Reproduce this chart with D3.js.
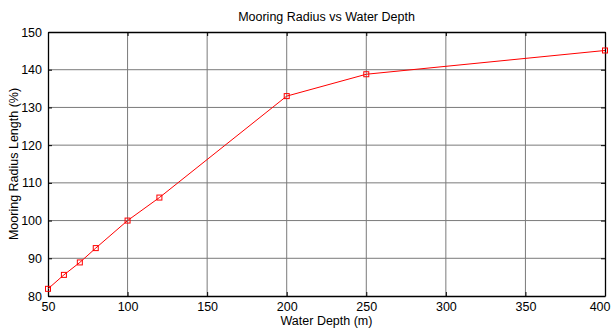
<!DOCTYPE html>
<html><head><meta charset="utf-8">
<script src="https://cdn.jsdelivr.net/npm/d3@7"></script>
<style>body{margin:0;background:#fff;}svg{display:block;font-family:"Liberation Sans",Arial,sans-serif;}</style>
</head><body>
<script>
const depths = [50, 60, 70, 80, 100, 120, 200, 250, 400];
const radius = [81.9, 85.6, 88.9, 92.7, 100, 106.1, 133.0, 138.8, 145.1];
const xTicks = [50, 100, 150, 200, 250, 300, 350, 400];
const yTicks = [80, 90, 100, 110, 120, 130, 140, 150];

const W = 614, H = 329;
const m = {l: 48, r: 9, t: 32, b: 33};
const svg = d3.select("body").append("svg").attr("width", W).attr("height", H);
const x = d3.scaleLinear().domain([50, 400]).range([m.l, W - m.r]);
const y = d3.scaleLinear().domain([80, 150]).range([H - m.b, m.t]);

// grid
svg.append("g").selectAll("line").data(xTicks.slice(1, -1)).join("line")
  .attr("x1", d => x(d)).attr("x2", d => x(d)).attr("y1", y(80)).attr("y2", y(150))
  .attr("stroke", "#7a7a7a").attr("stroke-width", 1);
svg.append("g").selectAll("line").data(yTicks.slice(1, -1)).join("line")
  .attr("y1", d => y(d)).attr("y2", d => y(d)).attr("x1", x(50)).attr("x2", x(400))
  .attr("stroke", "#7a7a7a").attr("stroke-width", 1);

// axes
const xa = svg.append("g").attr("transform", `translate(0,${y(80)})`)
  .call(d3.axisBottom(x).tickValues(xTicks).tickSizeInner(-4).tickSizeOuter(0).tickPadding(6));
const ya = svg.append("g").attr("transform", `translate(${x(50)},0)`)
  .call(d3.axisLeft(y).tickValues(yTicks).tickSizeInner(-4).tickSizeOuter(0).tickPadding(6));
const xt = svg.append("g").attr("transform", `translate(0,${y(150)})`)
  .call(d3.axisTop(x).tickValues(xTicks).tickSizeInner(-4).tickSizeOuter(0).tickFormat(""));
const yr = svg.append("g").attr("transform", `translate(${x(400)},0)`)
  .call(d3.axisRight(y).tickValues(yTicks).tickSizeInner(-4).tickSizeOuter(0).tickFormat(""));
[xa, ya, xt, yr].forEach(g => {
  g.select(".domain").attr("stroke", "#000").attr("stroke-width", 1.3);
  g.selectAll("text").attr("fill", "#000").style("font-size", "12.5px").style("font-family", "Liberation Sans, Arial, sans-serif");
  g.selectAll(".tick line").attr("stroke", "#000");
});
xa.selectAll(".tick:last-of-type text").attr("text-anchor", "end").attr("dx", "0.4em");

// line
svg.append("path").datum(depths.map((d, i) => [d, radius[i]]))
  .attr("fill", "none").attr("stroke", "#ff0000").attr("stroke-width", 1)
  .attr("d", d3.line().x(d => x(d[0])).y(d => y(d[1])));
svg.append("g").selectAll("rect").data(depths.map((d, i) => [d, radius[i]])).join("rect")
  .attr("x", d => x(d[0]) - 2.5).attr("y", d => y(d[1]) - 2.5)
  .attr("width", 5).attr("height", 5)
  .attr("fill", "none").attr("stroke", "#ff0000").attr("stroke-width", 1);

// labels
svg.append("text").attr("x", (x(50) + x(400)) / 2).attr("y", 21).attr("text-anchor", "middle")
  .style("font-size", "12.5px").text("Mooring Radius vs Water Depth");
svg.append("text").attr("x", (x(50) + x(400)) / 2).attr("y", 325).attr("text-anchor", "middle")
  .style("font-size", "12.5px").text("Water Depth (m)");
svg.append("text").attr("transform", `translate(18,${(y(80) + y(150)) / 2}) rotate(-90)`)
  .attr("text-anchor", "middle").style("font-size", "12.5px").text("Mooring Radius Length (%)");
</script>
</body></html>
